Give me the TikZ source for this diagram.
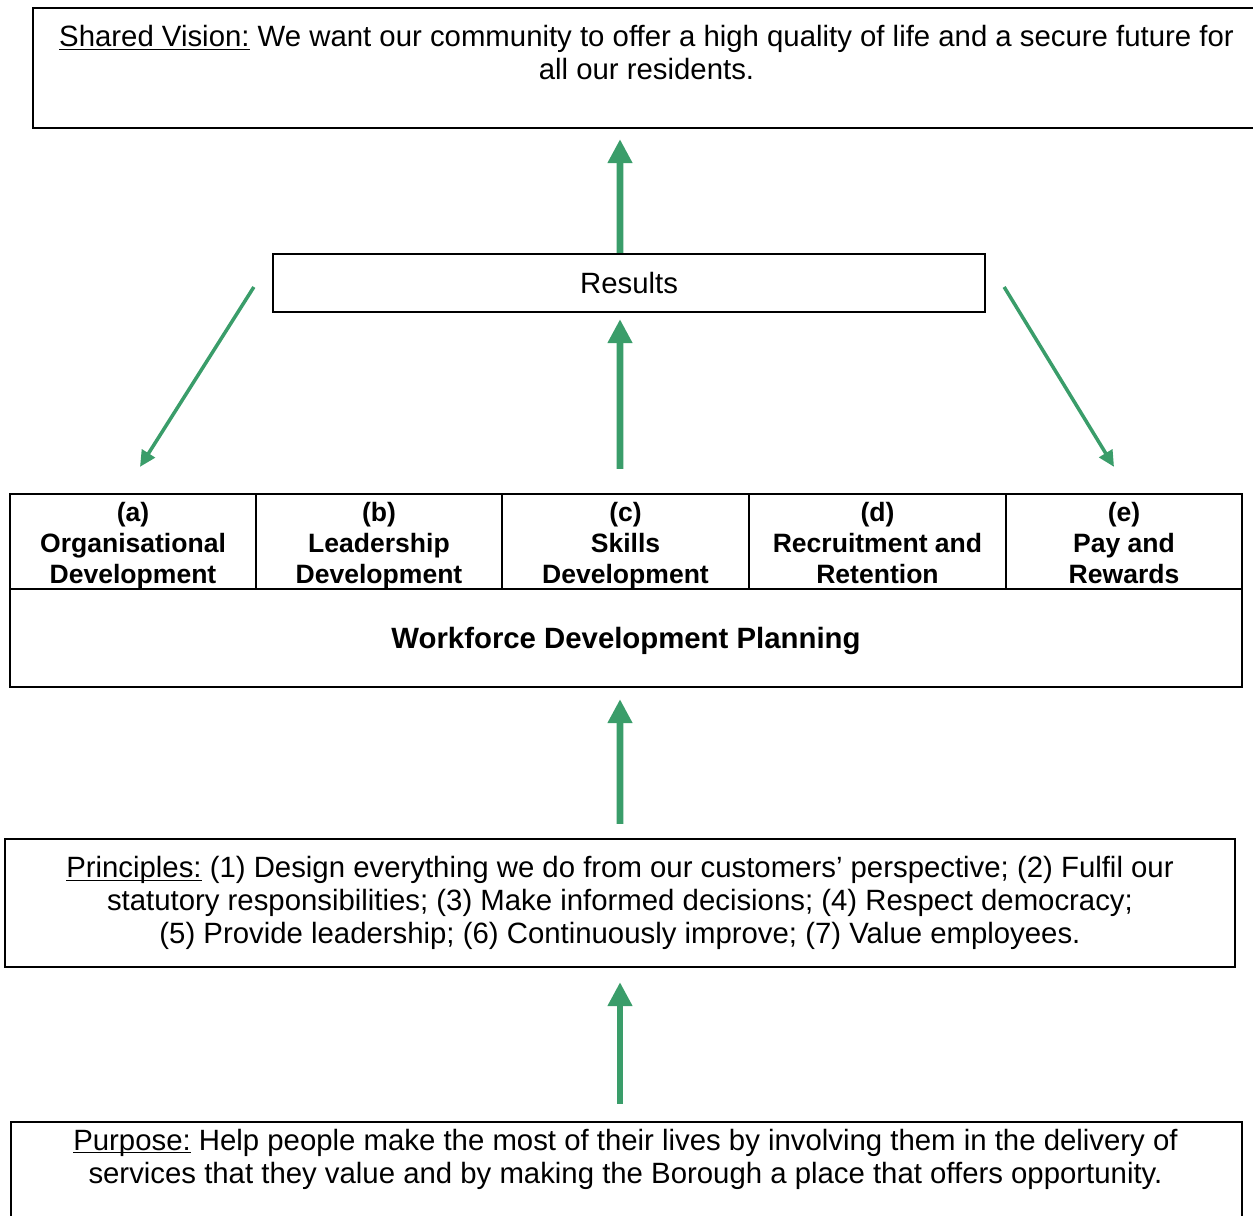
\documentclass[tikz,border=0pt]{standalone}
\usepackage{fontspec}
\setmainfont{Liberation Sans}
\usepackage{tikz}
\usetikzlibrary{arrows.meta}
\usetikzlibrary{calc}
\definecolor{arrgreen}{RGB}{58,157,106}
\newcommand{\ulbl}[1]{\underline{\smash{#1}}}
\tikzstyle{box} = [draw,line width=1.3pt,inner sep=0pt,align=center,font=\fontsize{16.7}{18.8}\selectfont]
\tikzstyle{txt} = [inner sep=0pt,align=center,font=\fontsize{16.7}{18.8}\selectfont]
\tikzstyle{colbox} = [box,minimum height=1.9cm,text height=50.5pt,text depth=2.9pt,font=\fontsize{15.1}{17.6}\selectfont\bfseries]
\tikzstyle{grnarr} = [draw=arrgreen,line width=3.8pt,-{Triangle[width=0.47cm,length=0.48cm]},arrgreen]
\tikzstyle{grnthin} = [draw=arrgreen,line width=2pt,-{Triangle[width=0.3cm,length=0.32cm]},arrgreen]

\begin{document}
\begin{tikzpicture}[scale=1]
\useasboundingbox (0,0) rectangle (25.06,24.3);

% vision
\draw(12.93,22.94) node[box,minimum width=24.54cm,minimum height=2.4cm] (vision) {};
\draw(12.93,23.25) node[txt] (visiontxt) {\ulbl{Shared Vision:} We want our community to offer a high quality of life and a secure future for\\ all our residents.};

\draw(12.58,18.64) node[box,minimum width=14.24cm,minimum height=1.16cm] (results) {Results};

% the five areas
\draw(2.66,13.47) node[colbox,minimum width=4.92cm] (cola) {(a)\\ Organisational\\ Development};
\draw(7.58,13.47) node[colbox,minimum width=4.92cm] (colb) {(b)\\ Leadership\\ Development};
\draw(12.51,13.47) node[colbox,minimum width=4.94cm] (colc) {(c)\\ Skills\\ Development};
\draw(17.55,13.47) node[colbox,minimum width=5.14cm] (cold) {(d)\\ Recruitment and\\ Retention};
\draw(22.48,13.47) node[colbox,minimum width=4.72cm] (cole) {(e)\\ Pay and\\ Rewards};
\draw(12.52,11.54) node[box,minimum width=24.64cm,minimum height=1.96cm,text depth=0pt,font=\fontsize{16.7}{18.8}\selectfont\bfseries] (plan) {Workforce Development Planning};

\draw(12.40,6.24) node[box,minimum width=24.6cm,minimum height=2.56cm] (princ) {\ulbl{Principles:} (1) Design everything we do from our customers’ perspective; (2) Fulfil our\\ statutory responsibilities; (3) Make informed decisions; (4) Respect democracy;\\ (5) Provide leadership; (6) Continuously improve; (7) Value employees.};

\draw(12.53,0.76) node[box,minimum width=24.62cm,minimum height=2.2cm] (purpose) {};
\draw(12.51,1.12) node[txt] (purposetxt) {\ulbl{Purpose:} Help people make the most of their lives by involving them in the delivery of\\ services that they value and by making the Borough a place that offers opportunity.};

% arrows
\draw[grnarr,shorten >=0.2cm] ([xshift=-0.18cm]results.north) -- ([xshift=-0.53cm]vision.south);
\draw[grnarr,shorten <=0.48cm,shorten >=0.12cm] ([xshift=-0.11cm]colc.north) -- ([xshift=-0.18cm]results.south);
\draw[grnarr,shorten <=0.28cm,shorten >=0.22cm] (princ.north) -- ([xshift=-0.12cm]plan.south);
\draw[grnarr,shorten <=0.34cm,shorten >=0.28cm] ([xshift=-0.13cm]purpose.north) -- (princ.south);
\draw[grnthin] ([shift={(-0.36,-0.08)}]results.west) -- ([shift={(0.14,0.52)}]cola.north);
\draw[grnthin] ([shift={(0.36,-0.08)}]results.east) -- ([shift={(-0.2,0.52)}]cole.north);

\end{tikzpicture}
\end{document}
